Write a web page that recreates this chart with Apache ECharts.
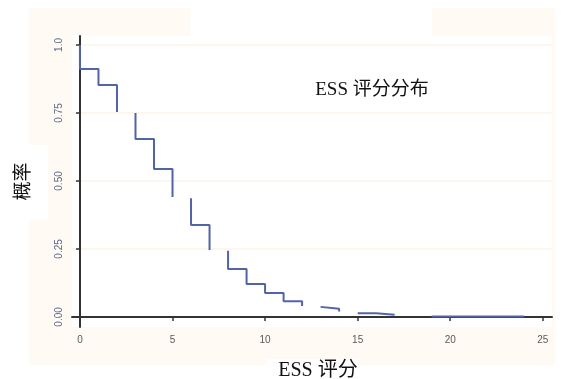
<!DOCTYPE html>
<html>
<head>
<meta charset="utf-8">
<script src="https://cdn.jsdelivr.net/npm/echarts@6/dist/echarts.min.js"></script>
<style>
  html, body { margin: 0; padding: 0; background: #fff; }
  #chart { width: 561px; height: 379px; }
</style>
</head>
<body>
<div id="chart"></div>
<script>
// 阶梯线各段（null 为断开处）
const scoreX = [0, 0, 1, 2, null, 3, 3, 4, 5, null, 6, 6, 7, null,
  8, 8, 9, 10, 11, 12, null, 13, 13, 14, null, 15, 16, 17, null, 19, 24];
const probY = [1.0, 0.912, 0.853, 0.754, null, 0.75, 0.654, 0.544, 0.441, null, 0.436, 0.338, 0.246, null,
  0.243, 0.176, 0.121, 0.088, 0.058, 0.04, null, 0.037, 0.03, 0.02, null, 0.014, 0.008, 0.008, null, 0.002, 0.002];
const xTicks = [0, 5, 10, 15, 20, 25];
const yTicks = [0, 0.25, 0.5, 0.75, 1.0];
const yTickLabels = { 0: "0.00", 0.25: "0.25", 0.5: "0.50", 0.75: "0.75", 1: "1.0" };

const chart = echarts.init(document.getElementById("chart"));

const lineData = scoreX.map((x, i) => (x === null ? [null, null] : [x, probY[i]]));

const option = {
  backgroundColor: "#fff",
  animation: false,
  graphic: [
    // 米色底框
    { type: "rect", z: -10, shape: { x: 29, y: 8, width: 526, height: 357 }, style: { fill: "#fffaf3" } },
    { type: "rect", z: -9, shape: { x: 190, y: 8, width: 242, height: 30 }, style: { fill: "#fff" } },
    { type: "rect", z: -9, shape: { x: 0, y: 145, width: 48, height: 75 }, style: { fill: "#fff" } },
  ],
  title: {
    text: "ESS 评分分布",
    left: 367,
    top: 76,
    textAlign: "center",
    textStyle: {
      fontFamily: "'Liberation Serif', 'Noto Sans CJK SC'",
      fontSize: 19,
      fontWeight: "normal",
      color: "#111",
    },
  },
  grid: {
    left: 72,
    right: 9,
    top: 36,
    bottom: 52,
    outerBoundsMode: "none",
    containLabel: false,
    show: true,
    backgroundColor: "#fff",
    borderWidth: 0,
  },
  xAxis: {
    type: "value",
    min: -0.43,
    max: 25.5,
    name: "ESS 评分",
    nameLocation: "middle",
    nameGap: 32,
    nameTextStyle: {
      fontFamily: "'Liberation Serif', 'Noto Sans CJK SC'",
      fontSize: 20,
      color: "#111",
      backgroundColor: "#fff",
      padding: [2, 0, 6, 12],
    },
    axisLine: { lineStyle: { color: "#333", width: 2 } },
    axisTick: { customValues: xTicks, length: 4, lineStyle: { color: "#333", width: 1.5 } },
    axisLabel: { customValues: xTicks, fontSize: 10, color: "#5a5a5a", margin: 8 },
    splitLine: { show: false },
  },
  yAxis: {
    type: "value",
    min: -0.037,
    max: 1.033,
    name: "概率",
    nameLocation: "middle",
    nameGap: 38,
    nameTextStyle: {
      fontFamily: "'Liberation Serif', 'Noto Sans CJK SC'",
      fontSize: 19,
      color: "#111",
    },
    axisLine: { show: true, lineStyle: { color: "#333", width: 2 } },
    axisTick: { show: true, customValues: yTicks, length: 4, lineStyle: { color: "#333", width: 1.5 } },
    axisLabel: {
      customValues: yTicks,
      rotate: 90,
      fontSize: 10,
      color: "#5a6a8a",
      margin: 8,
      formatter: (v) => yTickLabels[v] ?? String(v),
    },
    splitLine: { show: true, lineStyle: { color: "#fcf3e8", width: 1.5 } },
  },
  series: [
    {
      type: "line",
      step: "end",
      data: lineData,
      connectNulls: false,
      showSymbol: false,
      symbol: "none",
      lineStyle: { color: "#5264a8", width: 2 },
    },
  ],
};

chart.setOption(option);
</script>
</body>
</html>
